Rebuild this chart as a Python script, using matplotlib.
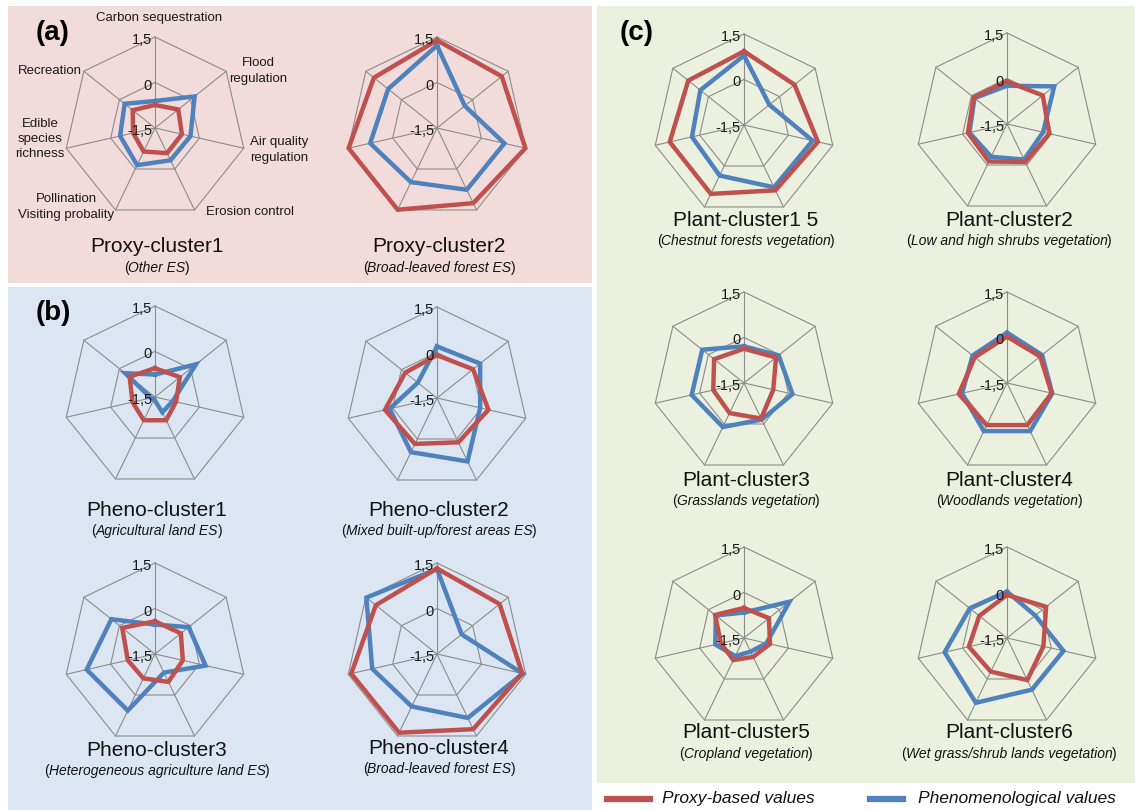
import numpy as np
import matplotlib
matplotlib.use("Agg")
import matplotlib.pyplot as plt
from matplotlib.patches import Rectangle
from matplotlib.lines import Line2D

plt.rcParams['font.family'] = ['Liberation Sans', 'DejaVu Sans']

W, H = 1135, 810
DPI = 100

# Ecosystem-service axes, clockwise from the top
services = ["Carbon sequestration", "Flood\nregulation", "Air quality\nregulation",
            "Erosion control", "Pollination\nVisiting probality",
            "Edible\nspecies\nrichness", "Recreation"]

r_ticks = [-1.5, 0.0, 1.5]
r_tick_labels = ["-1,5", "0", "1,5"]

titles = ["Proxy-cluster1", "Proxy-cluster2",
          "Pheno-cluster1", "Pheno-cluster2", "Pheno-cluster3", "Pheno-cluster4",
          "Plant-cluster1 5", "Plant-cluster2", "Plant-cluster3", "Plant-cluster4",
          "Plant-cluster5", "Plant-cluster6"]
subtitles = ["Other ES", "Broad-leaved forest ES",
             "Agricultural land ES", "Mixed built-up/forest areas ES",
             "Heterogeneous agriculture land ES", "Broad-leaved forest ES",
             "Chestnut forests vegetation", "Low and high shrubs vegetation",
             "Grasslands vegetation", "Woodlands vegetation",
             "Cropland vegetation", "Wet grass/shrub lands vegetation"]

# Proxy-based values (one row per cluster, one column per service)
proxy_vals = [
    [-0.74, -0.52, -0.59, -0.58, -0.64, -0.76, -0.56],
    [1.39, 1.23, 1.49, 1.25, 1.49, 1.49, 1.16],
    [-0.55, -0.45, -0.79, -0.65, -0.65, -0.74, -0.43],
    [-0.09, 0.02, 0.24, 0.12, 0.18, 0.26, -0.16],
    [-0.42, -0.41, -0.56, -0.48, -0.61, -0.58, -0.12],
    [1.32, 1.14, 1.38, 1.25, 1.38, 1.40, 1.08],
    [0.93, 0.63, 1.00, 0.89, 1.02, 1.01, 0.85],
    [-0.10, 0.01, -0.07, -0.11, -0.13, -0.18, -0.09],
    [-0.37, -0.15, -0.51, -0.20, -0.40, -0.46, -0.24],
    [0.03, -0.10, 0.01, 0.04, 0.04, 0.13, -0.14],
    [-0.51, -0.45, -0.62, -0.81, -0.69, -0.72, -0.28],
    [-0.08, 0.15, -0.27, 0.04, -0.27, -0.21, -0.33],
]

# Phenomenological values
pheno_vals = [
    [-0.61, 0.17, -0.30, -0.32, -0.14, -0.32, -0.22],
    [1.22, -0.33, 0.78, 0.76, 0.48, 0.76, 0.56],
    [-0.76, 0.23, -0.90, -0.94, -1.42, -1.36, -0.24],
    [0.20, 0.32, -0.04, 0.82, 0.48, 0.10, -0.69],
    [-0.53, -0.08, 0.21, -0.82, 0.57, 0.81, 0.34],
    [1.30, -0.46, 1.40, 0.84, 0.42, 0.69, 1.48],
    [0.79, -0.43, 0.82, 0.78, 0.35, 0.26, 0.34],
    [-0.24, 0.49, -0.28, -0.20, -0.30, -0.23, -0.13],
    [-0.29, -0.04, 0.14, -0.16, 0.11, 0.27, 0.26],
    [0.16, -0.02, 0.03, 0.26, 0.26, 0.02, -0.05],
    [-0.66, 0.42, -0.74, -1.00, -0.84, -0.53, -0.31],
    [0.03, -0.31, 0.41, 0.39, 0.87, 0.61, 0.07],
]

legend_labels = ["Proxy-based values", "Phenomenological values"]

RED = "#C0504D"
BLUE = "#4F81BD"
GRID = "#8C8C8C"
TXT = "#111111"

# chart centres in pixels (x, y from top) and title positions
centers = [(155, 128), (437, 128),
           (155, 397), (437, 398), (155, 654), (437, 654),
           (744, 125), (1007, 124), (744, 383), (1007, 383), (744, 638), (1007, 638)]
title_y = [247, 247, 510, 510, 750, 748, 220, 220, 480, 480, 733, 733]
R = 91

fig = plt.figure(figsize=(W / DPI, H / DPI), dpi=DPI)
fig.patch.set_facecolor("white")


def fx(x):
    return x / W


def fy(y):
    return 1 - y / H


def px_rect(x0, y0, x1, y1, color):
    fig.patches.append(Rectangle((x0 / W, 1 - y1 / H), (x1 - x0) / W, (y1 - y0) / H,
                                 transform=fig.transFigure, facecolor=color,
                                 edgecolor="none", zorder=-10))


# panel backgrounds
px_rect(8, 6, 592, 283, "#F2DCDB")
px_rect(8, 287, 592, 810, "#DCE6F2")
px_rect(597, 6, 1135, 783, "#EBF1DE")

n = len(services)
theta = np.arange(n) * 2 * np.pi / n
theta_c = np.append(theta, theta[0])

subtitle_texts = []
for i, (cx, cy) in enumerate(centers):
    ax = fig.add_axes([(cx - R) / W, 1 - (cy + R) / H, 2 * R / W, 2 * R / H],
                      projection="polar")
    ax.set_theta_zero_location("N")
    ax.set_theta_direction(-1)
    ax.set_ylim(-1.5, 1.5)
    ax.grid(False)
    ax.set_xticks([])
    ax.set_yticks([])
    ax.spines["polar"].set_visible(False)
    ax.patch.set_alpha(0)

    # heptagonal rings and spokes
    for rv in [0.0, 1.5]:
        ax.plot(theta_c, [rv] * (n + 1), color=GRID, lw=0.8, zorder=1, clip_on=False)
    for t in theta:
        ax.plot([t, t], [-1.5, 1.5], color=GRID, lw=0.8, zorder=1, clip_on=False)

    # radial tick labels to the left of the top spoke
    for rv, lab in zip(r_ticks, r_tick_labels):
        yy = cy - (rv + 1.5) / 3.0 * R + 3
        fig.text(fx(cx - 3), fy(yy), lab, ha="right", va="center", fontsize=10.5,
                 color="#1a1a1a")

    pv = proxy_vals[i] + [proxy_vals[i][0]]
    hv = pheno_vals[i] + [pheno_vals[i][0]]
    ax.plot(theta_c, hv, color=BLUE, lw=3.2, zorder=3, clip_on=False,
            solid_joinstyle="miter")
    ax.plot(theta_c, pv, color=RED, lw=3.2, zorder=4, clip_on=False,
            solid_joinstyle="miter")

    fig.text(fx(cx + 2), fy(title_y[i]), titles[i], ha="center", va="center",
             fontsize=15, color=TXT)
    t_mid = fig.text(fx(cx + 2), fy(title_y[i] + 21), subtitles[i], ha="center",
                     va="center", fontsize=10, style="italic", color=TXT)
    subtitle_texts.append(t_mid)

# upright parentheses around the italic subtitles
fig.canvas.draw()
renderer = fig.canvas.get_renderer()
for t_mid in subtitle_texts:
    bb = t_mid.get_window_extent(renderer)
    sy = t_mid.get_position()[1]
    fig.text((bb.x0 + 0.5) / W, sy, "(", ha="right", va="center", fontsize=10, color=TXT)
    fig.text((bb.x1 - 0.5) / W, sy, ")", ha="left", va="center", fontsize=10, color=TXT)

# service names around the first chart
svc_pos = [(159, 18), (258, 71), (279, 150), (250, 212), (66, 207), (40, 139), (50, 71)]
for name, (x, y) in zip(services, svc_pos):
    fig.text(fx(x), fy(y), name, ha="center", va="center", fontsize=9.5,
             multialignment="center", linespacing=1.35, color="#1a1a1a")

# panel letters
for lab, (x, y) in zip(["(a)", "(b)", "(c)"], [(53, 33), (53, 313), (637, 33)]):
    fig.text(fx(x), fy(y), lab, ha="center", va="center", fontsize=20,
             fontweight="bold", color="#000000")

# legend
fig.add_artist(Line2D([fx(607), fx(650)], [fy(799), fy(799)], color=RED, lw=4.5,
                      transform=fig.transFigure))
fig.text(fx(662), fy(799), legend_labels[0], ha="left", va="center",
         fontsize=12.5, style="italic", color=TXT)
fig.add_artist(Line2D([fx(870), fx(903)], [fy(799), fy(799)], color=BLUE, lw=4.5,
                      transform=fig.transFigure))
fig.text(fx(918), fy(799), legend_labels[1], ha="left", va="center",
         fontsize=12.5, style="italic", color=TXT)

fig.savefig("out.png", dpi=DPI, facecolor="white")
